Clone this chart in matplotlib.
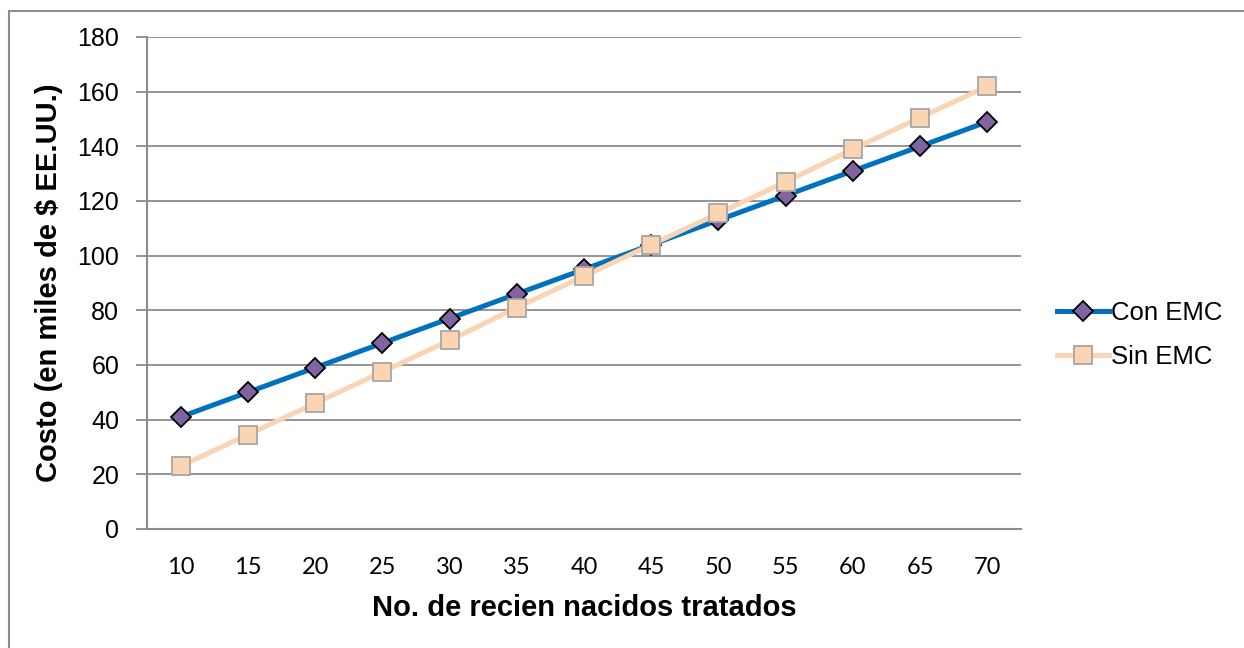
import numpy as np
import matplotlib
matplotlib.use('Agg')
from matplotlib import pyplot as plt
from matplotlib.patches import Rectangle

plt.rcParams['font.family'] = ['Liberation Sans', 'DejaVu Sans']

# datos
recien_nacidos = [10, 15, 20, 25, 30, 35, 40, 45, 50, 55, 60, 65, 70]
con_emc = [41, 50, 59, 68, 77, 86, 95, 104, 113, 122, 131, 140, 149]
sin_emc = [23, 34.5, 46, 57.5, 69, 81, 92.5, 104, 115.5, 127, 139, 150.5, 162]
yticks = [0, 20, 40, 60, 80, 100, 120, 140, 160, 180]

fig = plt.figure(figsize=(12.44, 6.48), dpi=100)
# marco exterior
fig.patches.append(Rectangle((9/1244, -0.1), 1.2, 1 - 11/648 + 0.1, transform=fig.transFigure,
                             fill=False, edgecolor='#8c8c8c', linewidth=1.5))

ax = fig.add_axes([147/1244, 1 - 529/648, (1021 - 147)/1244, (529 - 37)/648])
x = np.arange(len(recien_nacidos))

ax.plot(x, con_emc, color='#0070C0', linewidth=3.6, marker='D', markersize=10,
        markerfacecolor='#8064A2', markeredgecolor='black', markeredgewidth=1.3,
        label='Con EMC', zorder=3)
ax.plot(x, sin_emc, color='#FBD4B4', linewidth=3.6, marker='s', markersize=13,
        markerfacecolor='#FBD4B4', markeredgecolor='#A6A6A6', markeredgewidth=1.3,
        label='Sin EMC', zorder=4)

ax.set_xlim(-0.5, len(x) - 0.5)
ax.set_ylim(0, 180)
ax.set_yticks(yticks)
ax.set_xticks(x)
ax.set_xticklabels([str(v) for v in recien_nacidos], family=['Lato', 'DejaVu Sans'])
ax.yaxis.grid(True, color='#8c8c8c', linewidth=1.3)
ax.set_axisbelow(True)
for s in ['top', 'right']:
    ax.spines[s].set_visible(False)
for s in ['left', 'bottom']:
    ax.spines[s].set_color('#8c8c8c')
    ax.spines[s].set_linewidth(1.5)
ax.tick_params(axis='y', length=8, width=1.3, color='#8c8c8c', labelsize=18, pad=12)
ax.tick_params(axis='x', length=0, labelsize=17, pad=20)

ax.set_xlabel('No. de recien nacidos tratados', fontsize=21, fontweight='bold', labelpad=12)
ax.set_ylabel('Costo (en miles de $ EE.UU.)', fontsize=21, fontweight='bold', labelpad=10)

ax.legend(loc='center left', bbox_to_anchor=(1.015, 0.394), frameon=False, fontsize=18.5,
          handlelength=2.0, handletextpad=0.1, labelspacing=0.8)

fig.savefig('out.png', dpi=100)
